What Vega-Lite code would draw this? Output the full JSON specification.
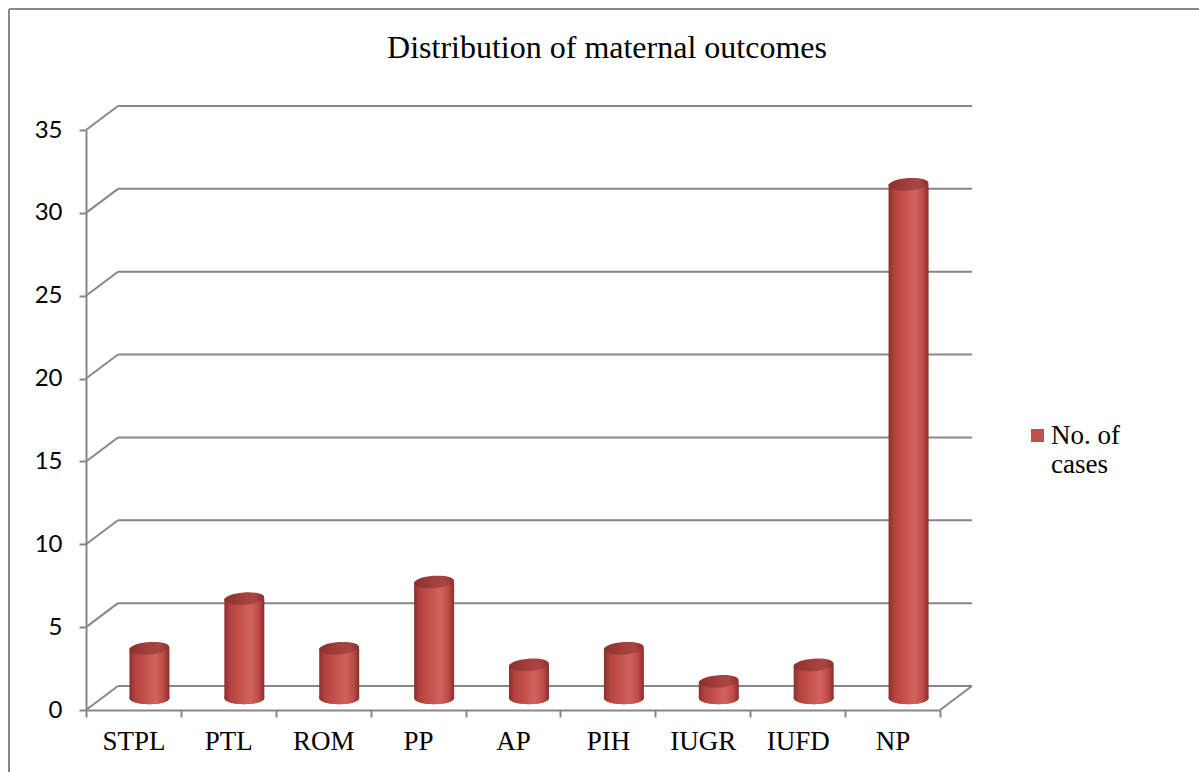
{
  "$schema": "https://vega.github.io/schema/vega-lite/v6.json",
  "width": 1190,
  "height": 763,
  "autosize": {"type": "none"},
  "padding": {"left": 9, "top": 9, "right": 0, "bottom": 0},
  "background": "white",
  "title": {
    "text": "Distribution of maternal outcomes",
    "font": "Liberation Serif",
    "fontSize": 32,
    "fontWeight": "normal",
    "color": "black",
    "anchor": "middle",
    "frame": "group",
    "baseline": "alphabetic",
    "offset": 0,
    "dx": 3,
    "dy": 81
  },
  "config": {
    "view": {"stroke": "#878787", "strokeWidth": 2, "strokeDash": [1190, 1953, 763, 0]},
    "axis": {
      "domainColor": "#878787",
      "domainWidth": 2,
      "tickColor": "#878787",
      "tickWidth": 2,
      "tickSize": 7,
      "grid": false,
      "labelColor": "black"
    }
  },
  "datasets": {
    "cases": [
      {"outcome": "STPL", "n": 3},
      {"outcome": "PTL", "n": 6},
      {"outcome": "ROM", "n": 3},
      {"outcome": "PP", "n": 7},
      {"outcome": "AP", "n": 2},
      {"outcome": "PIH", "n": 3},
      {"outcome": "IUGR", "n": 1},
      {"outcome": "IUFD", "n": 2},
      {"outcome": "NP", "n": 31}
    ],
    "grid": [
      {"v": 0}, {"v": 5}, {"v": 10}, {"v": 15}, {"v": 20}, {"v": 25}, {"v": 30}, {"v": 35}
    ]
  },
  "layer": [
    {
      "data": {"name": "grid"},
      "mark": {"type": "rule", "color": "#878787", "strokeWidth": 2, "xOffset": 32, "x2Offset": 32, "yOffset": -24},
      "encoding": {
        "x": {
          "datum": "STPL",
          "type": "nominal",
          "bandPosition": 0,
          "title": null,
          "scale": {"domain": ["STPL", "PTL", "ROM", "PP", "AP", "PIH", "IUGR", "IUFD", "NP"], "range": [77, 931], "paddingInner": 0, "paddingOuter": 0},
          "axis": {
            "orient": "bottom",
            "offset": -62,
            "tickBand": "extent",
            "labelAngle": 0,
            "labelFont": "Liberation Serif",
            "labelFontSize": 27,
            "labelPadding": 11,
            "title": null
          }
        },
        "x2": {"datum": "NP", "bandPosition": 1},
        "y": {
          "field": "v",
          "type": "quantitative",
          "title": null,
          "scale": {"domain": [0, 35], "range": [701, 121], "nice": false, "zero": true},
          "axis": {
            "orient": "left",
            "offset": -77,
            "values": [0, 5, 10, 15, 20, 25, 30, 35],
            "labelFont": "Lato",
            "labelFontSize": 24,
            "labelPadding": 17,
            "title": null
          }
        }
      }
    },
    {
      "data": {"name": "grid"},
      "mark": {"type": "rule", "color": "#878787", "strokeWidth": 2, "x2Offset": 32, "y2Offset": -24},
      "encoding": {
        "x": {"datum": "STPL", "type": "nominal", "bandPosition": 0, "title": null},
        "x2": {"datum": "STPL", "bandPosition": 0},
        "y": {"field": "v", "type": "quantitative", "title": null},
        "y2": {"field": "v"}
      }
    },
    {
      "data": {"name": "grid"},
      "transform": [{"filter": "datum.v == 0"}],
      "mark": {"type": "rule", "color": "#878787", "strokeWidth": 2, "x2Offset": 32, "y2Offset": -24},
      "encoding": {
        "x": {"datum": "NP", "type": "nominal", "bandPosition": 1, "title": null},
        "x2": {"datum": "NP", "bandPosition": 1},
        "y": {"field": "v", "type": "quantitative", "title": null},
        "y2": {"field": "v"}
      }
    },
    {
      "data": {"name": "cases"},
      "mark": {
        "type": "point",
        "shape": "M-1,0C-1,-0.1712,-0.5523,-0.31,0,-0.31C0.5523,-0.31,1,-0.1712,1,0C1,0.1712,0.5523,0.31,0,0.31C-0.5523,0.31,-1,0.1712,-1,0Z",
        "size": 1600,
        "filled": true,
        "opacity": 1,
        "strokeWidth": 0,
        "xOffset": 16,
        "yOffset": -12
      },
      "encoding": {
        "x": {"field": "outcome", "type": "nominal", "title": null},
        "y": {"datum": 0, "type": "quantitative", "title": null},
        "color": {
          "datum": "No. of cases",
          "type": "nominal",
          "scale": {"range": ["#C0504D"]},
          "legend": {
            "orient": "none",
            "legendX": 1015,
            "legendY": 413,
            "title": null,
            "padding": 0,
            "symbolType": "square",
            "symbolSize": 169,
            "symbolOpacity": 1,
            "symbolStrokeWidth": 0,
            "labelFont": "Liberation Serif",
            "labelFontSize": 27,
            "labelColor": "black",
            "labelBaseline": "middle",
            "labelOffset": 0,
            "labelLimit": 300,
            "labelExpr": "[slice(datum.label, 0, 6), slice(datum.label, 7)]"
          }
        }
      }
    },
    {
      "data": {"name": "cases"},
      "mark": {
        "type": "point",
        "shape": "M-1,0C-1,-0.1712,-0.5523,-0.31,0,-0.31C0.5523,-0.31,1,-0.1712,1,0C1,0.1712,0.5523,0.31,0,0.31C-0.5523,0.31,-1,0.1712,-1,0Z",
        "size": 1600,
        "filled": true,
        "opacity": 1,
        "strokeWidth": 0,
        "xOffset": 16,
        "yOffset": -12,
        "fill": {"gradient": "linear", "x1": 0, "y1": 0, "x2": 1, "y2": 0, "stops": [
          {"offset": 0, "color": "#8C2F2D"},
          {"offset": 0.15, "color": "#B3433F"},
          {"offset": 0.45, "color": "#C9544F"},
          {"offset": 0.65, "color": "#D2625E"},
          {"offset": 0.85, "color": "#BE4C48"},
          {"offset": 1, "color": "#8A2E2C"}
        ]}
      },
      "encoding": {
        "x": {"field": "outcome", "type": "nominal", "title": null},
        "y": {"datum": 0, "type": "quantitative", "title": null}
      }
    },
    {
      "data": {"name": "cases"},
      "mark": {
        "type": "bar",
        "width": 40,
        "xOffset": 16,
        "yOffset": -12,
        "y2Offset": -12,
        "strokeWidth": 0,
        "fill": {"gradient": "linear", "x1": 0, "y1": 0, "x2": 1, "y2": 0, "stops": [
          {"offset": 0, "color": "#8C2F2D"},
          {"offset": 0.15, "color": "#B3433F"},
          {"offset": 0.45, "color": "#C9544F"},
          {"offset": 0.65, "color": "#D2625E"},
          {"offset": 0.85, "color": "#BE4C48"},
          {"offset": 1, "color": "#8A2E2C"}
        ]}
      },
      "encoding": {
        "x": {"field": "outcome", "type": "nominal", "title": null},
        "y": {"field": "n", "type": "quantitative", "title": null}
      }
    },
    {
      "data": {"name": "cases"},
      "mark": {
        "type": "point",
        "shape": "M-1,0C-1,-0.1712,-0.5523,-0.31,0,-0.31C0.5523,-0.31,1,-0.1712,1,0C1,0.1712,0.5523,0.31,0,0.31C-0.5523,0.31,-1,0.1712,-1,0Z",
        "size": 1600,
        "filled": true,
        "opacity": 1,
        "strokeWidth": 0,
        "angle": -4,
        "xOffset": 16,
        "yOffset": -12,
        "fill": {"gradient": "linear", "x1": 0, "y1": 0, "x2": 1, "y2": 0, "stops": [
          {"offset": 0, "color": "#8B302E"},
          {"offset": 0.5, "color": "#A5403D"},
          {"offset": 0.75, "color": "#AC4542"},
          {"offset": 1, "color": "#8C312F"}
        ]}
      },
      "encoding": {
        "x": {"field": "outcome", "type": "nominal", "title": null},
        "y": {"field": "n", "type": "quantitative", "title": null}
      }
    }
  ]
}
